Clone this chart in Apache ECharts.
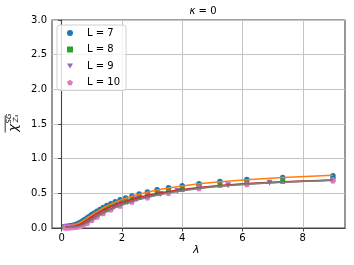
<!DOCTYPE html>
<html><head><meta charset="utf-8">
<script src="https://cdn.jsdelivr.net/npm/echarts@6/dist/echarts.min.js"></script>
<style>html,body{margin:0;padding:0;background:#fff}#c{width:354px;height:265px}</style>
</head><body><div id="c"></div>
<script>
// lambda grids
var lamA = [0.111,0.136,0.163,0.190,0.220,0.250,0.282,0.316,0.351,0.389,0.429,0.471,0.515,0.563,0.613,0.667,0.724,0.786,0.852,0.923,1.000,1.083,1.174,1.273,1.381,1.500,1.632,1.778,1.941,2.125,2.333,2.571,2.846,3.167,3.545,4.000,4.556,5.250,6.143,7.333,9.000];
var lamB = [0.111,0.145,0.181,0.220,0.261,0.304,0.351,0.402,0.456,0.515,0.579,0.648,0.724,0.807,0.899,1.000,1.113,1.239,1.381,1.542,1.727,1.941,2.192,2.488,2.846,3.286,3.839,4.556,5.522,6.895,9.000];
var lamC = [0.111,0.163,0.220,0.282,0.351,0.429,0.515,0.613,0.724,0.852,1.000,1.174,1.381,1.632,1.941,2.333,2.846,3.545,4.556,6.143,9.000];
// measured values
var chiL7 = [0.020,0.021,0.022,0.023,0.025,0.026,0.028,0.031,0.034,0.038,0.043,0.050,0.058,0.068,0.080,0.094,0.110,0.128,0.148,0.170,0.193,0.216,0.241,0.266,0.297,0.323,0.350,0.378,0.406,0.434,0.462,0.491,0.521,0.551,0.581,0.610,0.640,0.670,0.700,0.728,0.755];
var chiL8 = [0.015,0.015,0.016,0.016,0.017,0.018,0.019,0.020,0.022,0.025,0.028,0.032,0.038,0.045,0.054,0.066,0.080,0.096,0.115,0.136,0.158,0.181,0.205,0.230,0.256,0.282,0.308,0.335,0.362,0.389,0.416,0.444,0.472,0.500,0.529,0.558,0.588,0.617,0.646,0.673,0.700];
var chiL9 = [0.010,0.010,0.011,0.011,0.012,0.013,0.015,0.017,0.021,0.026,0.033,0.044,0.058,0.077,0.102,0.129,0.155,0.188,0.223,0.258,0.295,0.331,0.370,0.413,0.452,0.492,0.535,0.576,0.617,0.652,0.690];
var chiL10 = [0.008,0.008,0.009,0.010,0.011,0.013,0.018,0.027,0.044,0.073,0.114,0.161,0.212,0.266,0.322,0.380,0.441,0.506,0.572,0.631,0.686];
// fitted curves (on lamA)
var fitL7 = [0.022,0.022,0.023,0.024,0.025,0.026,0.028,0.030,0.033,0.037,0.042,0.048,0.056,0.066,0.078,0.092,0.108,0.126,0.146,0.167,0.190,0.213,0.237,0.262,0.294,0.320,0.347,0.374,0.402,0.430,0.458,0.487,0.517,0.548,0.578,0.607,0.637,0.667,0.697,0.727,0.760];
var fitL8 = [0.016,0.016,0.017,0.017,0.018,0.019,0.020,0.021,0.023,0.026,0.029,0.033,0.039,0.046,0.055,0.067,0.081,0.097,0.116,0.137,0.159,0.182,0.206,0.231,0.256,0.282,0.308,0.334,0.361,0.388,0.415,0.443,0.471,0.499,0.528,0.556,0.585,0.614,0.642,0.668,0.694];
var fitL9 = [0.011,0.011,0.011,0.011,0.012,0.012,0.013,0.014,0.015,0.017,0.019,0.022,0.026,0.031,0.038,0.047,0.058,0.072,0.089,0.108,0.128,0.150,0.173,0.197,0.222,0.248,0.275,0.302,0.330,0.358,0.390,0.420,0.450,0.482,0.513,0.545,0.576,0.606,0.634,0.662,0.690];
var fitL10 = [0.008,0.008,0.008,0.009,0.009,0.009,0.010,0.010,0.011,0.012,0.013,0.015,0.018,0.022,0.027,0.034,0.044,0.057,0.073,0.092,0.113,0.136,0.160,0.185,0.211,0.238,0.265,0.293,0.321,0.350,0.379,0.409,0.440,0.472,0.505,0.538,0.571,0.602,0.632,0.660,0.688];
var xTicks = [0,2,4,6,8];
var legendNames = ['L = 7','L = 8','L = 9','L = 10'];

function pairs(xs, ys){ return xs.map(function(x,i){return [x, ys[i]];}); }
var pent = 'path://M0,-10 L9.51,-3.09 L5.88,8.09 L-5.88,8.09 L-9.51,-3.09 Z';
var tri = 'path://M-10,-8 L10,-8 L0,9 Z';
var F = 'DejaVu Sans';

function sc(name, xs, ys, color, symbol, size){
  return {type:'scatter', name:name, data:pairs(xs,ys), symbol:symbol, symbolSize:size,
    itemStyle:{color:color, opacity:1}, emphasis:{disabled:true}, animation:false};
}
function ln(xs, ys, color){
  return {type:'line', data:pairs(xs,ys), showSymbol:false, symbol:'none',
    lineStyle:{color:color, width:1.5}, emphasis:{disabled:true}, animation:false};
}

var chart = echarts.init(document.getElementById('c'), null, {renderer:'canvas'});
chart.setOption({
  animation:false,
  backgroundColor:'#fff',
  title:{text:'{k|κ} = 0', left:198, top:1, textAlign:'center',
    textStyle:{fontFamily:F, fontSize:10, fontWeight:'normal', color:'#000',
      rich:{k:{fontFamily:F, fontSize:10, fontStyle:'italic', color:'#000'}}}},
  grid:{left:52, right:9, top:20, bottom:37, show:true, borderColor:'#444', borderWidth:1.1, backgroundColor:'transparent'},
  legend:{data:legendNames.map(function(n,i){return {name:n, icon:[ 'circle','rect',tri,pent][i]};}),
    left:57, top:25, orient:'vertical', itemWidth:6, itemHeight:6, itemGap:4.5,
    padding:[2,6,2,10], backgroundColor:'rgba(255,255,255,0.8)', borderColor:'#d0d0d0', borderWidth:1, borderRadius:3,
    textStyle:{fontFamily:F, fontSize:10, color:'#000', lineHeight:12, padding:[0,0,0,9]}},
  xAxis:{type:'value', min:-0.32, max:9.4,
    axisLine:{show:true, onZero:false, lineStyle:{color:'#444', width:1.1}},
    axisTick:{show:true, length:3.5, customValues:xTicks, lineStyle:{color:'#444'}},
    axisLabel:{customValues:xTicks, fontFamily:F, fontSize:10, color:'#000', margin:5},
    splitLine:{show:true, lineStyle:{color:'#c4c4c4', width:1}}},
  yAxis:{type:'value', min:0, max:3, interval:0.5,
    axisLine:{show:true, lineStyle:{color:'#444', width:1.1}},
    axisTick:{show:true, length:3.5, lineStyle:{color:'#444'}},
    axisLabel:{fontFamily:F, fontSize:10, color:'#000', margin:5, formatter:function(v){return v.toFixed(1);}},
    splitLine:{show:true, lineStyle:{color:'#c4c4c4', width:1}}},
  graphic:[
    {type:'text', left:193, top:245, style:{text:'λ', fontFamily:F, fontSize:11, fontStyle:'italic', fill:'#000'}},
    {type:'group', x:13, y:124, rotation:Math.PI/2, children:[
      {type:'text', x:-4, y:0.5, style:{text:'χ', fontFamily:F, fontSize:13, fontStyle:'italic', fill:'#000', align:'center', verticalAlign:'middle'}},
      {type:'text', x:5.5, y:-3.5, style:{text:'SG', fontFamily:F, fontSize:7, fontStyle:'italic', fill:'#000', align:'center', verticalAlign:'middle'}},
      {type:'text', x:5.5, y:3.2, style:{text:'Z\u2083', fontFamily:F, fontSize:7, fontStyle:'italic', fill:'#000', align:'center', verticalAlign:'middle'}},
      {type:'line', shape:{x1:-8.5, y1:-7.8, x2:8.5, y2:-7.8}, style:{stroke:'#000', lineWidth:0.8}}
    ]}
  ],
  series:[
    sc('L = 7', lamA, chiL7, '#1f77b4', 'circle', 5.5),
    ln(lamA, fitL7, '#ff7f0e'),
    sc('L = 8', lamA, chiL8, '#2ca02c', 'rect', 5),
    ln(lamA, fitL8, '#d62728'),
    sc('L = 9', lamB, chiL9, '#9467bd', tri, 6),
    ln(lamA, fitL9, '#8c564b'),
    sc('L = 10', lamC, chiL10, '#e377c2', pent, 6),
    ln(lamA, fitL10, '#7f7f7f')
  ]
});
</script></body></html>
